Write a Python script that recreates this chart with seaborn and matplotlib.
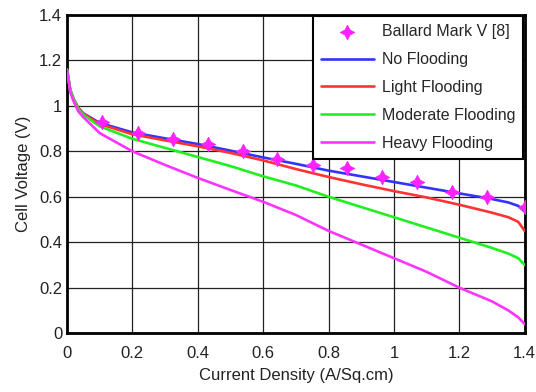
import numpy as np
import pandas as pd
import matplotlib
matplotlib.use("Agg")
import matplotlib.pyplot as plt
import seaborn as sns

current = [0.0, 0.01, 0.02, 0.035, 0.05, 0.1, 0.2, 0.3, 0.4, 0.5, 0.6, 0.7,
           0.8, 0.9, 1.0, 1.1, 1.2, 1.3, 1.35, 1.38, 1.4]

no_flooding = [1.16, 1.07, 1.03, 0.99, 0.967, 0.925, 0.883, 0.857, 0.832, 0.803,
               0.773, 0.745, 0.715, 0.69, 0.665, 0.64, 0.615, 0.59, 0.575, 0.56, 0.535]
light_flooding = [1.16, 1.07, 1.03, 0.99, 0.965, 0.92, 0.875, 0.848, 0.822, 0.793,
                  0.76, 0.722, 0.687, 0.655, 0.625, 0.597, 0.565, 0.53, 0.51, 0.49, 0.45]
moderate_flooding = [1.16, 1.07, 1.03, 0.985, 0.96, 0.91, 0.855, 0.815, 0.775, 0.735,
                     0.69, 0.65, 0.60, 0.555, 0.51, 0.465, 0.42, 0.375, 0.35, 0.33, 0.30]
heavy_flooding = [1.16, 1.06, 1.02, 0.975, 0.95, 0.88, 0.80, 0.74, 0.683, 0.63,
                  0.578, 0.52, 0.45, 0.39, 0.33, 0.27, 0.20, 0.14, 0.10, 0.07, 0.04]

# Ballard Mark V experimental points
ballard_x = [0.107, 0.217, 0.324, 0.431, 0.538, 0.642, 0.752, 0.856, 0.963,
             1.07, 1.177, 1.284, 1.40]
ballard_y = [0.93, 0.88, 0.855, 0.83, 0.80, 0.765, 0.74, 0.725, 0.687,
             0.665, 0.62, 0.60, 0.555]

series = ["No Flooding", "Light Flooding", "Moderate Flooding", "Heavy Flooding"]
colors = ["#3333ff", "#ff3333", "#22ee22", "#ff33ff"]

df = pd.DataFrame({
    "current": current * 4,
    "voltage": no_flooding + light_flooding + moderate_flooding + heavy_flooding,
    "case": sum([[s] * len(current) for s in series], []),
})

sns.set_style("white")
plt.rcParams["font.family"] = ["Liberation Sans", "DejaVu Sans"]

fig, ax = plt.subplots(figsize=(5.36, 3.92), dpi=100)
fig.subplots_adjust(left=0.125, right=0.979, bottom=0.150, top=0.962)

sns.scatterplot(x=ballard_x, y=ballard_y, ax=ax, marker=(4, 1, 0), s=110,
                color="#ff22ff", edgecolor="#ff22ff", linewidth=0.5,
                label="Ballard Mark V [8]", zorder=4)
sns.lineplot(data=df, x="current", y="voltage", hue="case", hue_order=series,
             palette=colors, ax=ax, linewidth=1.9, zorder=3)

ax.set_xlim(0, 1.4)
ax.set_ylim(0, 1.4)
ticks = [0, 0.2, 0.4, 0.6, 0.8, 1, 1.2, 1.4]
labels = ["0", "0.2", "0.4", "0.6", "0.8", "1", "1.2", "1.4"]
ax.set_xticks(ticks)
ax.set_xticklabels(labels)
ax.set_yticks(ticks)
ax.set_yticklabels(labels)
ax.grid(True, color="#222222", linewidth=0.9)
ax.tick_params(direction="in", length=4, width=1, labelsize=12, colors="#222222")
ax.tick_params(axis="x", pad=9)
for sp in ax.spines.values():
    sp.set_color("black")
    sp.set_linewidth(2)
ax.set_xlabel("Current Density (A/Sq.cm)", fontsize=12, color="#222222", labelpad=5)
ax.set_ylabel("Cell Voltage (V)", fontsize=12, color="#222222", labelpad=6)

leg = ax.legend(loc="upper right", fontsize=11.5, frameon=True, fancybox=False,
                borderaxespad=0.1, handlelength=3.3, handletextpad=0.5,
                labelspacing=0.8, borderpad=0.5)
leg.get_frame().set_edgecolor("black")
leg.get_frame().set_linewidth(1.5)
leg.get_frame().set_alpha(1)

fig.savefig("out.png", dpi=100)
